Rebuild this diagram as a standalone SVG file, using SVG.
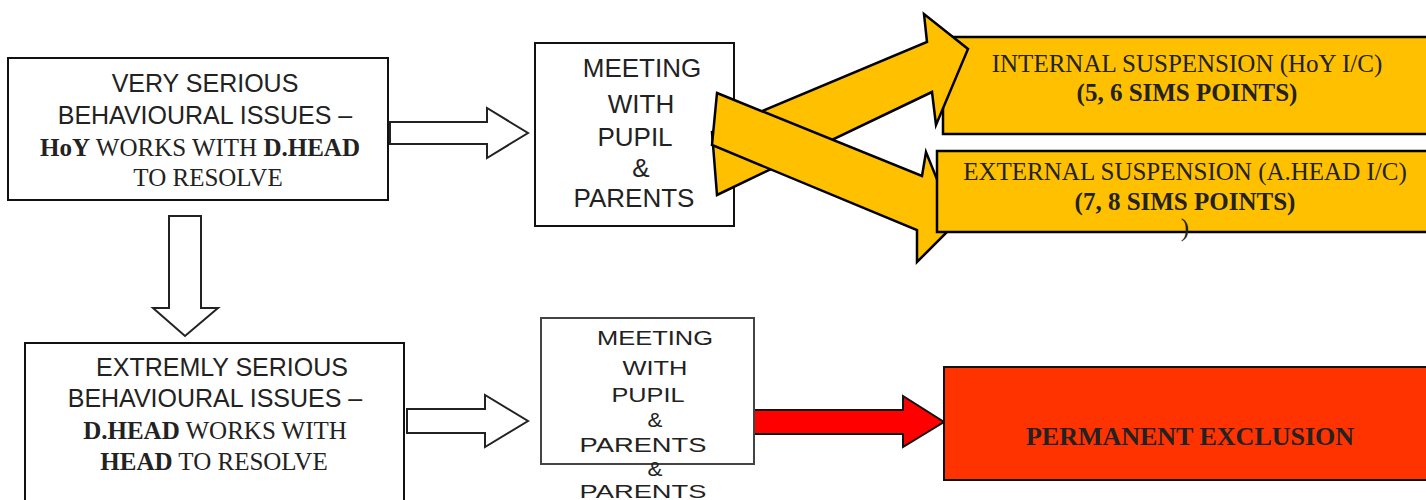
<svg xmlns="http://www.w3.org/2000/svg" width="1426" height="500" viewBox="0 0 1426 500">
<style>
.box{fill:#fff;stroke:#111;stroke-width:2}
.hollow{fill:#fff;stroke:#222;stroke-width:2;stroke-linejoin:miter}
.yel{fill:#ffc000;stroke:#000;stroke-width:2.5;stroke-linejoin:miter}
.sans{font-family:"Liberation Sans",Arial,sans-serif;fill:#222;text-anchor:middle}
.serif{font-family:"Liberation Serif","Times New Roman",serif;fill:#222;text-anchor:middle}
.b{font-weight:bold}
</style>
<rect width="1426" height="500" fill="#fff"/>

<g id="very-serious">
<rect class="box" x="8" y="58" width="380" height="142"/>
<text class="sans" x="205" y="92" font-size="25">VERY SERIOUS</text>
<text class="sans" x="205" y="124" font-size="25">BEHAVIOURAL ISSUES –</text>
<text class="serif" x="200" y="156" font-size="25"><tspan class="b">HoY</tspan> WORKS WITH <tspan class="b">D.HEAD</tspan></text>
<text class="serif" x="208" y="186" font-size="25">TO RESOLVE</text>
</g>

<g id="meeting-1">
<rect class="box" x="535" y="43" width="199" height="183"/>
<text class="sans" x="642" y="77" font-size="26">MEETING</text>
<text class="sans" x="641" y="113" font-size="26">WITH</text>
<text class="sans" x="635" y="146" font-size="26">PUPIL</text>
<text class="sans" x="641" y="177" font-size="26">&amp;</text>
<text class="sans" x="634" y="207" font-size="26">PARENTS</text>
</g>

<g id="internal-suspension">
<rect class="yel" x="943" y="37" width="490" height="97" stroke-width="2"/>
<text class="serif" x="1187" y="72" font-size="25" fill="#333">INTERNAL SUSPENSION (HoY I/C)</text>
<text class="serif b" x="1187" y="101" font-size="25" fill="#111">(5, 6 SIMS POINTS)</text>
</g>

<g id="connectors">
<polygon class="hollow" points="390,122 487,122 487,108 528,133 487,158 487,144 390,144"/>
<polygon class="hollow" points="169,216 201,216 201,308 218,308 185,336 153,308 169,308"/>
<polygon class="hollow" points="407,409 485,409 485,395 528,421 485,447 485,433 407,433"/>
<polygon points="753,410 903,410 903,396 944,422 903,447 903,434 753,434" fill="#ff0000" stroke="#111" stroke-width="2"/>
<polygon class="yel" points="717,195 712,132 927,42 924,14 968,49 936,125 932,92"/>
<polygon class="yel" points="717,93 922,176 926,152 955,224 917,262 917,230 712,145"/>
</g>

<g id="external-suspension">
<rect class="yel" x="937" y="151" width="496" height="81" stroke-width="2"/>
<text class="serif" x="1185" y="180" font-size="25" fill="#3a3320">EXTERNAL SUSPENSION (A.HEAD I/C)</text>
<text class="serif b" x="1185" y="210" font-size="25" fill="#111">(7, 8 SIMS POINTS)</text>
<text class="serif" x="1185" y="236" font-size="25" fill="#555">)</text>
</g>

<g id="extremely-serious">
<rect class="box" x="25" y="343" width="379" height="162"/>
<text class="sans" x="222" y="376" font-size="25">EXTREMLY SERIOUS</text>
<text class="sans" x="215" y="407" font-size="25">BEHAVIOURAL ISSUES –</text>
<text class="serif" x="215" y="439" font-size="25"><tspan class="b">D.HEAD</tspan> WORKS WITH</text>
<text class="serif" x="214" y="470" font-size="25"><tspan class="b">HEAD</tspan> TO RESOLVE</text>
</g>

<g id="meeting-2">
<rect x="541" y="318" width="213" height="146" fill="#fff" stroke="#444" stroke-width="2"/>
<g class="sans" font-size="21" fill="#333">
<text x="655" y="345" textLength="116" lengthAdjust="spacingAndGlyphs">MEETING</text>
<text x="655" y="375" textLength="65" lengthAdjust="spacingAndGlyphs">WITH</text>
<text x="648" y="402" textLength="73" lengthAdjust="spacingAndGlyphs">PUPIL</text>
<text x="655" y="427" textLength="15" lengthAdjust="spacingAndGlyphs">&amp;</text>
<text x="643" y="452" textLength="127" lengthAdjust="spacingAndGlyphs">PARENTS</text>
<text x="655" y="476" textLength="15" lengthAdjust="spacingAndGlyphs">&amp;</text>
<text x="643" y="498" font-size="19" textLength="127" lengthAdjust="spacingAndGlyphs">PARENTS</text>
</g>
</g>

<g id="permanent-exclusion">
<rect x="944" y="367" width="490" height="113" fill="#ff3300" stroke="#111" stroke-width="2"/>
<text class="serif b" x="1190" y="445" font-size="26" fill="#111">PERMANENT EXCLUSION</text>
</g>
</svg>
